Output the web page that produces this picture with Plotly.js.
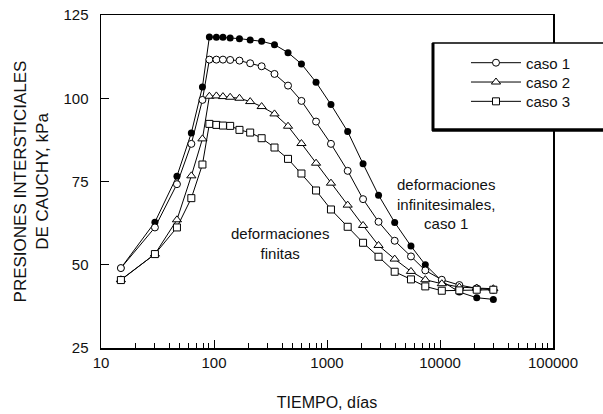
<!DOCTYPE html>
<html><head><meta charset="utf-8">
<script src="https://cdn.plot.ly/plotly-3.0.1.min.js"></script>
<style>html,body{margin:0;padding:0;background:#fff}#chart{width:603px;height:414px}</style>
</head><body><div id="chart"></div>
<script>
const days = [15, 30, 47, 63, 79, 91, 105, 120, 139, 168, 209, 264, 343, 452, 594, 800, 1084, 1524, 2085, 2858, 3972, 5535, 7413, 10375, 14825, 21135, 29648];
const infinitesimalCaso1 = [49.0, 62.8, 76.6, 89.6, 103.4, 118.4, 118.3, 118.3, 118.1, 117.9, 117.5, 117.1, 116.1, 113.7, 110.3, 104.8, 98.1, 90.0, 80.3, 70.9, 62.7, 55.6, 50.0, 45.1, 41.8, 40.1, 39.6];
const caso1 = [49.0, 61.2, 74.2, 86.3, 99.5, 111.6, 111.6, 111.6, 111.5, 111.3, 110.5, 109.6, 107.3, 103.8, 99.2, 93.0, 86.3, 78.2, 69.7, 62.9, 57.2, 52.5, 48.3, 45.5, 43.9, 42.9, 42.5];
const caso2 = [45.5, 53.2, 63.5, 76.7, 87.8, 100.6, 100.7, 100.5, 100.3, 100.0, 99.0, 97.5, 95.3, 91.6, 86.4, 80.5, 74.5, 67.9, 61.8, 55.8, 51.7, 48.0, 45.5, 44.3, 43.3, 43.0, 42.8];
const caso3 = [45.4, 53.2, 61.2, 70.0, 80.1, 92.3, 92.0, 91.8, 91.7, 90.5, 89.7, 88.0, 85.2, 81.8, 77.4, 72.3, 66.6, 61.4, 56.6, 52.4, 47.9, 45.6, 43.5, 42.2, 42.3, 42.5, 42.5];
const seriesNames = ['caso 1', 'caso 2', 'caso 3'];
const xTickVals = [10, 100, 1000, 10000, 100000];
const xTickText = ['10', '100', '1000', '10000', '100000'];
const yTickVals = [25, 50, 75, 100, 125];

const FONT = 'Liberation Sans, Arial, Helvetica, sans-serif';
const minorVals = [];
for (let d = 10; d < 100000; d *= 10) for (let k = 2; k <= 9; k++) minorVals.push(k * d);

const line = {color: '#000', width: 1};
const traces = [
  {x: days, y: infinitesimalCaso1, mode: 'lines+markers', showlegend: false, name: 'deformaciones infinitesimales, caso 1',
   line: line, marker: {symbol: 'circle', size: 7, color: '#000'}},
  {x: days, y: caso1, mode: 'lines+markers', name: seriesNames[0], legend: 'legend', line: line,
   marker: {symbol: 'circle', size: 7, color: '#fff', line: {color: '#000', width: 1}}},
  {x: days, y: caso2, mode: 'lines+markers', name: seriesNames[1], legend: 'legend2', line: line,
   marker: {symbol: 'triangle-up', size: 8, color: '#fff', line: {color: '#000', width: 1}}},
  {x: days, y: caso3, mode: 'lines+markers', name: seriesNames[2], legend: 'legend3', line: line,
   marker: {symbol: 'square', size: 7, color: '#fff', line: {color: '#000', width: 1}}}
];

function legendAt(yPaper) {
  return {x: 0.8075, y: yPaper, xanchor: 'left', yanchor: 'middle', bgcolor: 'rgba(0,0,0,0)', borderwidth: 0,
          itemwidth: 50, font: {family: FONT, size: 15, color: '#111'}};
}

const layout = {
  width: 603, height: 414,
  margin: {l: 101, r: 50, t: 15, b: 66},
  paper_bgcolor: '#fff', plot_bgcolor: '#fff',
  font: {family: FONT, size: 15, color: '#111'},
  showlegend: true,
  legend: legendAt(0.856),
  legend2: legendAt(0.798),
  legend3: legendAt(0.740),
  xaxis: {
    type: 'log', range: [1, 5], showgrid: false, zeroline: false,
    showline: true, linecolor: '#000', linewidth: 1.5, mirror: true,
    tickmode: 'array', tickvals: xTickVals, ticktext: xTickText,
    ticks: 'inside', ticklen: 8, tickcolor: '#000', tickwidth: 1,
    minor: {tickmode: 'array', tickvals: minorVals, ticks: 'inside', ticklen: 5, tickcolor: '#000', tickwidth: 1},
    tickfont: {family: FONT, size: 15, color: '#111'},
    title: {text: 'TIEMPO, días', font: {family: FONT, size: 16, color: '#111'}, standoff: 27}
  },
  yaxis: {
    range: [25, 125], showgrid: false, zeroline: false,
    showline: true, linecolor: '#000', linewidth: 1.5, mirror: true,
    tickmode: 'array', tickvals: yTickVals,
    ticks: 'inside', ticklen: 8, tickcolor: '#000', tickwidth: 1,
    ticklabelstandoff: 8,
    tickfont: {family: FONT, size: 15, color: '#111'},
    title: {text: 'PRESIONES INTERSTICIALES<br>DE CAUCHY, kPa', font: {family: FONT, size: 17, color: '#111'}, standoff: 10}
  },
  shapes: [
    {type: 'rect', xref: 'paper', yref: 'paper', x0: 0.7345, x1: 1.12, y0: 0.655, y1: 0.916,
     fillcolor: '#fff', line: {color: '#000', width: 1.5}, layer: 'above'},
    {type: 'line', xref: 'paper', yref: 'paper', x0: 0.7345, x1: 0.7345, y0: 0.652, y1: 0.916,
     line: {color: '#000', width: 3}, layer: 'above'},
    {type: 'line', xref: 'paper', yref: 'paper', x0: 0.7325, x1: 1.12, y0: 0.655, y1: 0.655,
     line: {color: '#000', width: 3.5}, layer: 'above'}
  ],
  annotations: [
    {xref: 'paper', yref: 'paper', x: 0.763, y: 0.432, xanchor: 'center', yanchor: 'middle',
     text: 'deformaciones<br>infinitesimales,<br>caso 1',
     showarrow: false, align: 'center', font: {family: FONT, size: 15, color: '#111'}},
    {xref: 'paper', yref: 'paper', x: 0.396, y: 0.315, xanchor: 'center', yanchor: 'middle',
     text: 'deformaciones<br>finitas',
     showarrow: false, align: 'center', font: {family: FONT, size: 15, color: '#111'}}
  ]
};

Plotly.newPlot('chart', traces, layout, {staticPlot: true, displayModeBar: false});
</script></body></html>
